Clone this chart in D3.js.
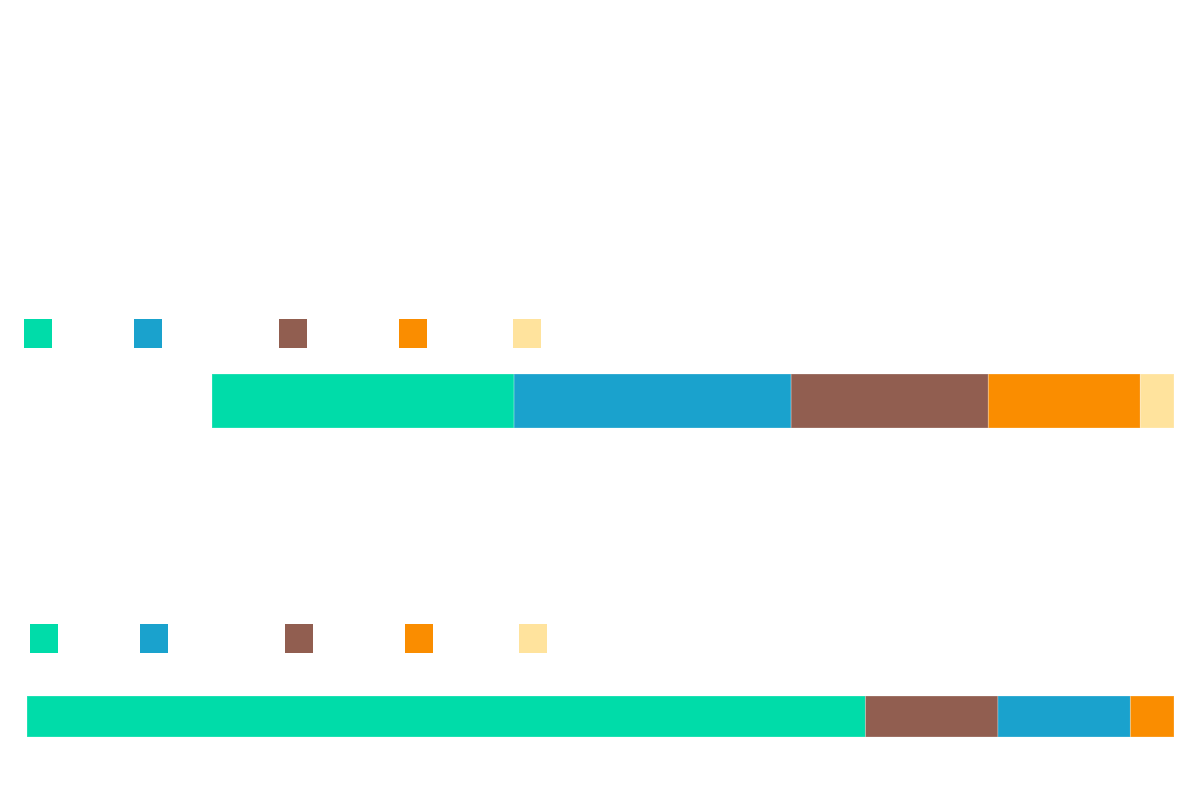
<!DOCTYPE html>
<html>
<head>
<meta charset="utf-8">
<script src="https://cdn.jsdelivr.net/npm/d3@7"></script>
<style>
  html, body { margin: 0; padding: 0; background: #ffffff; }
  svg { display: block; }
</style>
</head>
<body>
<svg id="chart" width="1200" height="796"></svg>
<script>
// ---- data ----
const seriesKeys = ["s1", "s2", "s3", "s4", "s5"];
const seriesColors = ["#00dca9", "#1aa2cd", "#915e50", "#fa8d00", "#ffe39d"];
// top chart: stacking order green, blue, brown, orange, yellow
const topOrder = ["s1", "s2", "s3", "s4", "s5"];
const topValues = [31.4, 28.8, 20.5, 15.8, 3.5];
// bottom chart: stacking order green, brown, blue, orange
const bottomOrder = ["s1", "s3", "s2", "s4"];
const bottomValues = [73.1, 11.55, 11.55, 3.8];

// ---- layout (not data) ----
const W = 1200, H = 796;
const legendOffsets = [0, 110, 255, 375, 489];
const panels = [
  { order: topOrder, values: topValues, x0: 212, x1: 1174, y: 374, h: 54, legendX: 24, legendY: 319 },
  { order: bottomOrder, values: bottomValues, x0: 27, x1: 1174, y: 696, h: 41, legendX: 30, legendY: 624 }
];

const svg = d3.select("#chart");
const color = d3.scaleOrdinal().domain(seriesKeys).range(seriesColors);

panels.forEach(p => {
  const g = svg.append("g");

  // legend
  const leg = g.append("g").attr("transform", `translate(${p.legendX},${p.legendY})`);
  leg.selectAll("rect")
    .data(seriesKeys)
    .join("rect")
    .attr("x", (d, i) => legendOffsets[i])
    .attr("y", 0)
    .attr("width", 28)
    .attr("height", 29)
    .attr("fill", d => color(d));

  // stacked bar
  const row = {};
  p.order.forEach((k, i) => row[k] = p.values[i]);
  const stack = d3.stack().keys(p.order)([row]);
  const total = d3.sum(p.values);
  const x = d3.scaleLinear().domain([0, total]).range([p.x0, p.x1]);
  const y = d3.scaleBand().domain(["bar"]).range([p.y, p.y + p.h]).padding(0);

  g.selectAll("rect.seg")
    .data(stack)
    .join("rect")
    .attr("class", "seg")
    .attr("x", d => x(d[0][0]))
    .attr("y", y("bar"))
    .attr("width", d => Math.max(0, x(d[0][1]) - x(d[0][0])))
    .attr("height", y.bandwidth())
    .attr("fill", d => color(d.key))
    .attr("stroke", "rgba(255,255,255,0.25)")
    .attr("stroke-width", 1);
});
</script>
</body>
</html>
